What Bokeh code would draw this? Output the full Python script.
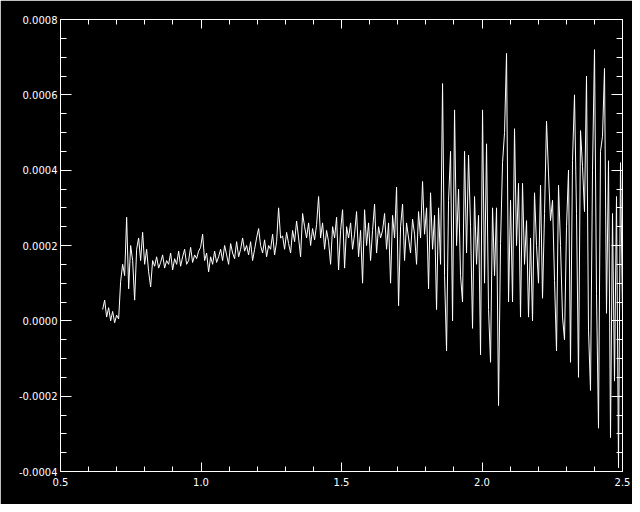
from bokeh.plotting import figure
from bokeh.models import Range1d, LinearAxis, SingleIntervalTicker, PrintfTickFormatter
from bokeh.embed import file_html
from bokeh.resources import INLINE
import numpy as np

# wavelength grid (evenly sampled) and flux values in units of 1e-4
x_start = 0.65
x_stop = 2.5
flux_e4 = [
    0.3, 0.55, 0.1, 0.35, 0.0, 0.25, -0.05, 0.15, 0.05, 1.05,
    1.5, 1.2, 2.75, 0.85, 2.0, 1.6, 0.55, 1.9, 2.2, 1.6,
    2.35, 1.5, 1.9, 1.3, 0.9, 1.6, 1.45, 1.7, 1.4, 1.55,
    1.75, 1.4, 1.6, 1.5, 1.8, 1.35, 1.65, 1.5, 1.85, 1.45,
    1.7, 1.9, 1.5, 1.6, 1.95, 1.55, 1.75, 1.65, 1.85, 1.95,
    2.3, 1.6, 1.8, 1.3, 1.7, 1.5, 1.85, 1.55, 1.7, 1.9,
    1.6, 2.0, 1.75, 1.5, 2.05, 1.8, 1.65, 2.1, 1.7, 1.9,
    2.2, 1.85, 2.0, 1.75, 2.1, 1.6, 1.9, 2.2, 2.45, 2.0,
    1.8, 2.15, 1.7, 2.0, 1.9, 2.3, 1.75, 2.1, 3.0, 2.2,
    2.25, 1.9, 2.35, 2.05, 1.8, 2.4, 2.1, 2.65, 2.2, 1.7,
    2.85, 2.5, 2.2, 2.6, 2.0, 2.45, 2.15, 2.55, 3.3, 2.2,
    2.6, 1.9, 2.4, 2.1, 1.5, 2.5, 2.2, 2.75, 1.35, 2.4,
    2.95, 1.4, 2.5, 2.2, 2.6, 1.9, 2.3, 2.9, 1.7, 2.4,
    1.0, 2.95, 2.0, 2.6, 1.6, 2.4, 3.1, 1.8, 2.5, 2.2,
    2.4, 2.85, 1.9, 2.6, 1.0, 2.8, 2.2, 3.55, 0.4, 2.5,
    3.1, 1.6, 2.6, 2.2, 1.8, 2.7, 2.3, 1.5, 2.9, 2.2,
    3.7, 2.3, 3.0, 0.85, 3.4, 1.9, 2.8, 0.3, 3.0, 1.5,
    6.3, 1.2, -0.8, 3.2, 4.5, 0.0, 5.6, 2.0, 3.5, 1.2,
    0.5, 4.5, 1.8, 4.4, 2.5, -0.2, 3.3, 1.5, 2.8, -0.9,
    5.6, 1.0, 4.7, 0.3, -1.1, 3.0, 1.2, 3.0, -2.25, 2.05,
    4.2, 5.0, 7.1, 0.5, 3.2, 0.5, 5.1, 2.0, 3.65, 0.1,
    3.65, 1.5, 2.66, 0.1, 2.2, 0.0, 3.4, 2.0, 1.0, 3.6,
    0.6, 2.85, 5.3, 3.9, 2.66, 3.2, 1.07, -0.8, 3.6, 2.0,
    0.1, -0.5, 2.5, 4.0, -1.1, 4.25, 6.0, 2.85, -1.5, 5.05,
    4.1, 2.9, 6.5, -0.25, -1.85, 4.0, 7.2, 0.72, -2.85, 4.5,
    4.9, 6.7, 0.2, 4.25, -3.1, 2.85, -1.6, 3.3, -3.9, 4.2, 0.2,
]

x_tick_labels = ["0.5", "1.0", "1.5", "2.0", "2.5"]
y_tick_labels = ["-0.0004", "-0.0002", "0.0000", "0.0002", "0.0004", "0.0006", "0.0008"]

wave = np.linspace(x_start, x_stop, len(flux_e4))
flux = np.array(flux_e4) * 1e-4

p = figure(width=632, height=504, output_backend="svg", toolbar_location=None,
           x_range=Range1d(0.5, 2.5), y_range=Range1d(-0.0004, 0.0008),
           min_border_left=60, min_border_right=10, min_border_top=19, min_border_bottom=33,
           background_fill_color="black", border_fill_color="black",
           x_axis_type=None, y_axis_type=None)
p.outline_line_color = "white"
p.outline_line_width = 1
p.grid.visible = False

p.line(wave, flux, line_color="white", line_width=1)

FONT = "DejaVu Sans"

def make_axis(kind, labels):
    if kind == "x":
        ticker = SingleIntervalTicker(interval=0.5, num_minor_ticks=5)
        fmt = PrintfTickFormatter(format="%.1f")
        maj, mnr = 9, 5
    else:
        ticker = SingleIntervalTicker(interval=0.0002, num_minor_ticks=4)
        fmt = PrintfTickFormatter(format="%.4f")
        maj, mnr = 11, 6
    ax = LinearAxis(ticker=ticker, formatter=fmt)
    ax.axis_line_color = "white"
    ax.major_tick_line_color = "white"
    ax.minor_tick_line_color = "white"
    ax.major_tick_in = maj
    ax.major_tick_out = 0
    ax.minor_tick_in = mnr
    ax.minor_tick_out = 0
    ax.major_label_text_color = "white"
    ax.major_label_text_font = FONT
    ax.major_label_text_font_size = "10px"
    if not labels:
        ax.major_label_text_font_size = "0px"
        ax.major_label_text_alpha = 0
        ax.major_label_standoff = 0
    return ax

bx = make_axis("x", True)
bx.major_label_standoff = 6
p.add_layout(bx, "below")
ly = make_axis("y", True)
ly.major_label_standoff = 3
p.add_layout(ly, "left")
p.add_layout(make_axis("x", False), "above")
p.add_layout(make_axis("y", False), "right")

html = file_html(p, INLINE)
html = html.replace("<body>", '<body style="background-color:#000000;">', 1)
open("out.html", "w").write(html)
